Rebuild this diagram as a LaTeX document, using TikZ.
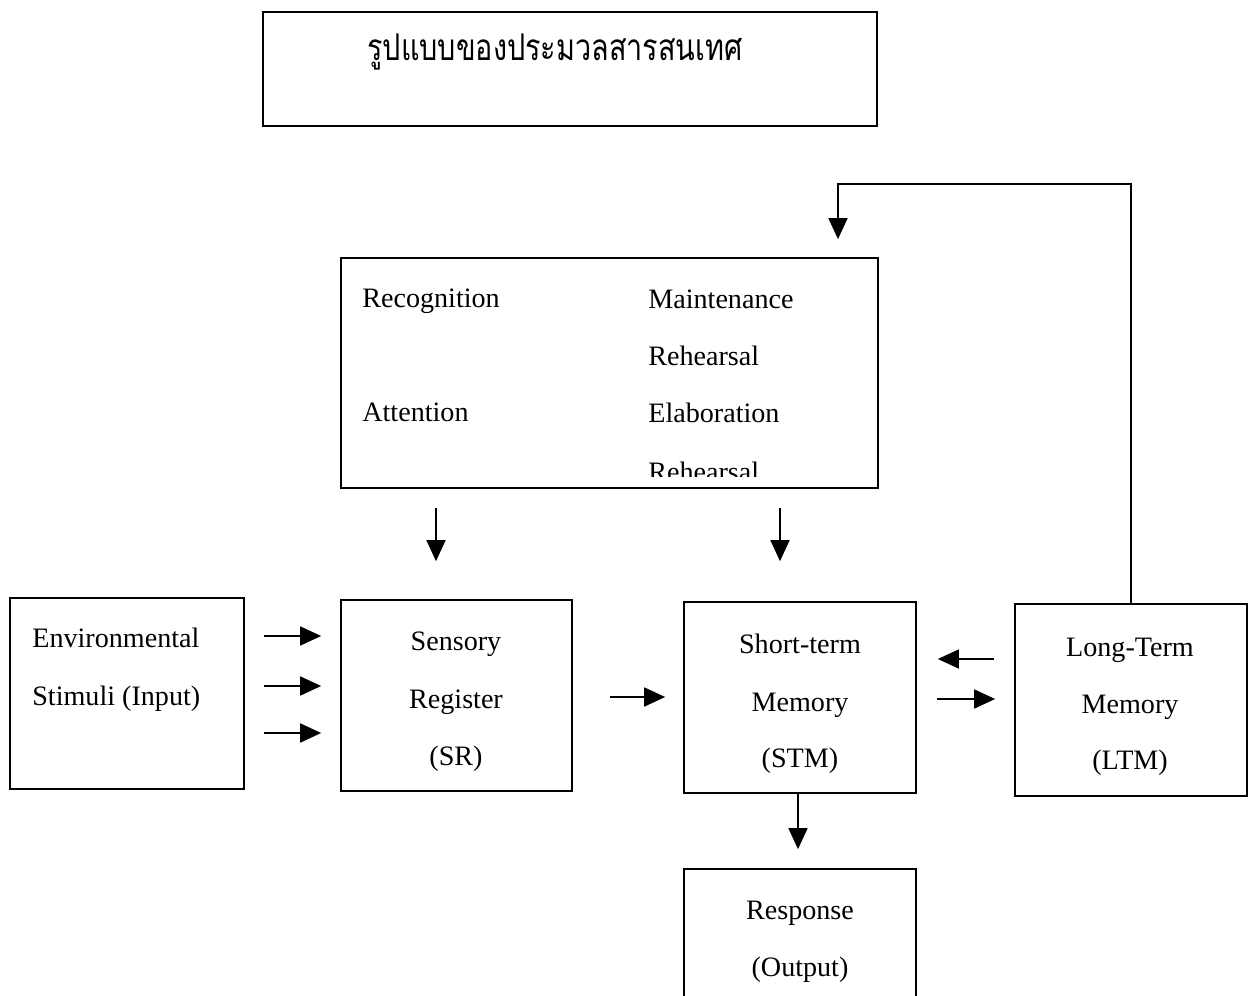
\documentclass[tikz,border=0pt]{standalone}
\usepackage{fontspec}
\setmainfont{Liberation Serif}
\newfontfamily\thaifont[Script=Thai]{Loma}
\usetikzlibrary{arrows.meta}

\tikzset{
  block/.style={draw, line width=1pt, rectangle, inner sep=0pt},
  flow/.style={line width=1pt, -{Triangle[length=0.42cm,width=0.38cm]}},
  txt/.style={font=\fontsize{16}{19}\selectfont, inner sep=0pt, anchor=base},
  txtl/.style={txt, anchor=base west}
}

\begin{document}
\begin{tikzpicture}[x=0.02cm, y=-0.02cm]

  % === Information processing model ===
  % one unit = one pixel of the page, y runs down

  \useasboundingbox (0,0) rectangle (1254,996);

  % Title box
  \node[block, minimum width=12.28cm, minimum height=2.28cm] (title) at (570,69) {};
  \node[inner sep=0pt] (titletxt) at (555,52)
    {\scalebox{0.78}[1]{\thaifont\fontsize{21}{24}\selectfont รูปแบบของประมวลสารสนเทศ}};

  % Process box (recognition, attention, rehearsal)
  \node[block, minimum width=10.74cm, minimum height=4.6cm] (proc) at (609.5,373) {};
  \node[txtl] (recog) at (362,308) {Recognition};
  \node[txtl] (atten) at (362,422) {Attention};
  \node[txtl] (maint) at (648,309) {Maintenance};
  \node[txtl] (rehA)  at (648,366) {Rehearsal};
  \node[txtl] (elab)  at (648,423) {Elaboration};
  \begin{scope}
    \clip (341,258) rectangle (878,477);
    \node[txtl] (rehB) at (648,481) {Rehearsal};
  \end{scope}

  % Main row of stores
  \node[block, minimum width=4.68cm, minimum height=3.82cm] (env) at (127,693.5) {};
  \node[txtl] (envA) at (32,647) {Environmental};
  \node[txtl] (envB) at (32,705) {Stimuli (Input)};

  \node[block, minimum width=4.62cm, minimum height=3.82cm] (sr) at (456.5,695.5) {};
  \node[txt] (srA) at (456,650) {Sensory};
  \node[txt] (srB) at (456,708) {Register};
  \node[txt] (srC) at (456,765) {(SR)};

  \node[block, minimum width=4.64cm, minimum height=3.82cm] (stm) at (800,697.5) {};
  \node[txt] (stmA) at (800,653) {Short-term};
  \node[txt] (stmB) at (800,711) {Memory};
  \node[txt] (stmC) at (800,767) {(STM)};

  \node[block, minimum width=4.64cm, minimum height=3.84cm] (ltm) at (1131,700) {};
  \node[txt] (ltmA) at (1130,656) {Long-Term};
  \node[txt] (ltmB) at (1130,713) {Memory};
  \node[txt] (ltmC) at (1130,769) {(LTM)};

  % Output box (runs off the page bottom)
  \node[block, minimum width=4.64cm, minimum height=2.82cm] (resp) at (800,939.5) {};
  \node[txt] (respA) at (800,919) {Response};
  \node[txt] (respB) at (800,976) {(Output)};

  % === Arrows ===
  % Input -> SR (three)
  \foreach \y in {636,686,733} {
    \draw[flow, shorten <=0.38cm, shorten >=0.38cm] (env.east |- 0,\y) -- (sr.west |- 0,\y);
  }

  % Process box -> SR and STM
  \draw[flow, shorten <=0.38cm, shorten >=0.76cm] (proc.south -| 436,0) -- (sr.north -| 436,0);
  \draw[flow, shorten <=0.38cm, shorten >=0.8cm] (proc.south -| 780,0) -- (stm.north -| 780,0);

  % SR -> STM
  \draw[flow, shorten <=0.74cm, shorten >=0.36cm] (sr.east |- 0,697) -- (stm.west |- 0,697);

  % STM <-> LTM
  \draw[flow, shorten <=0.4cm, shorten >=0.42cm] (ltm.west |- 0,659) -- (stm.east |- 0,659);
  \draw[flow, shorten <=0.4cm, shorten >=0.38cm] (stm.east |- 0,699) -- (ltm.west |- 0,699);

  % STM -> Response
  \draw[flow, shorten >=0.38cm] (stm.south -| 798,0) -- (resp.north -| 798,0);

  % LTM feedback to process box
  \coordinate (fb) at (838,184);
  \draw[flow, shorten >=0.36cm] (ltm.north) |- (fb) -- (proc.north -| fb);

\end{tikzpicture}
\end{document}
